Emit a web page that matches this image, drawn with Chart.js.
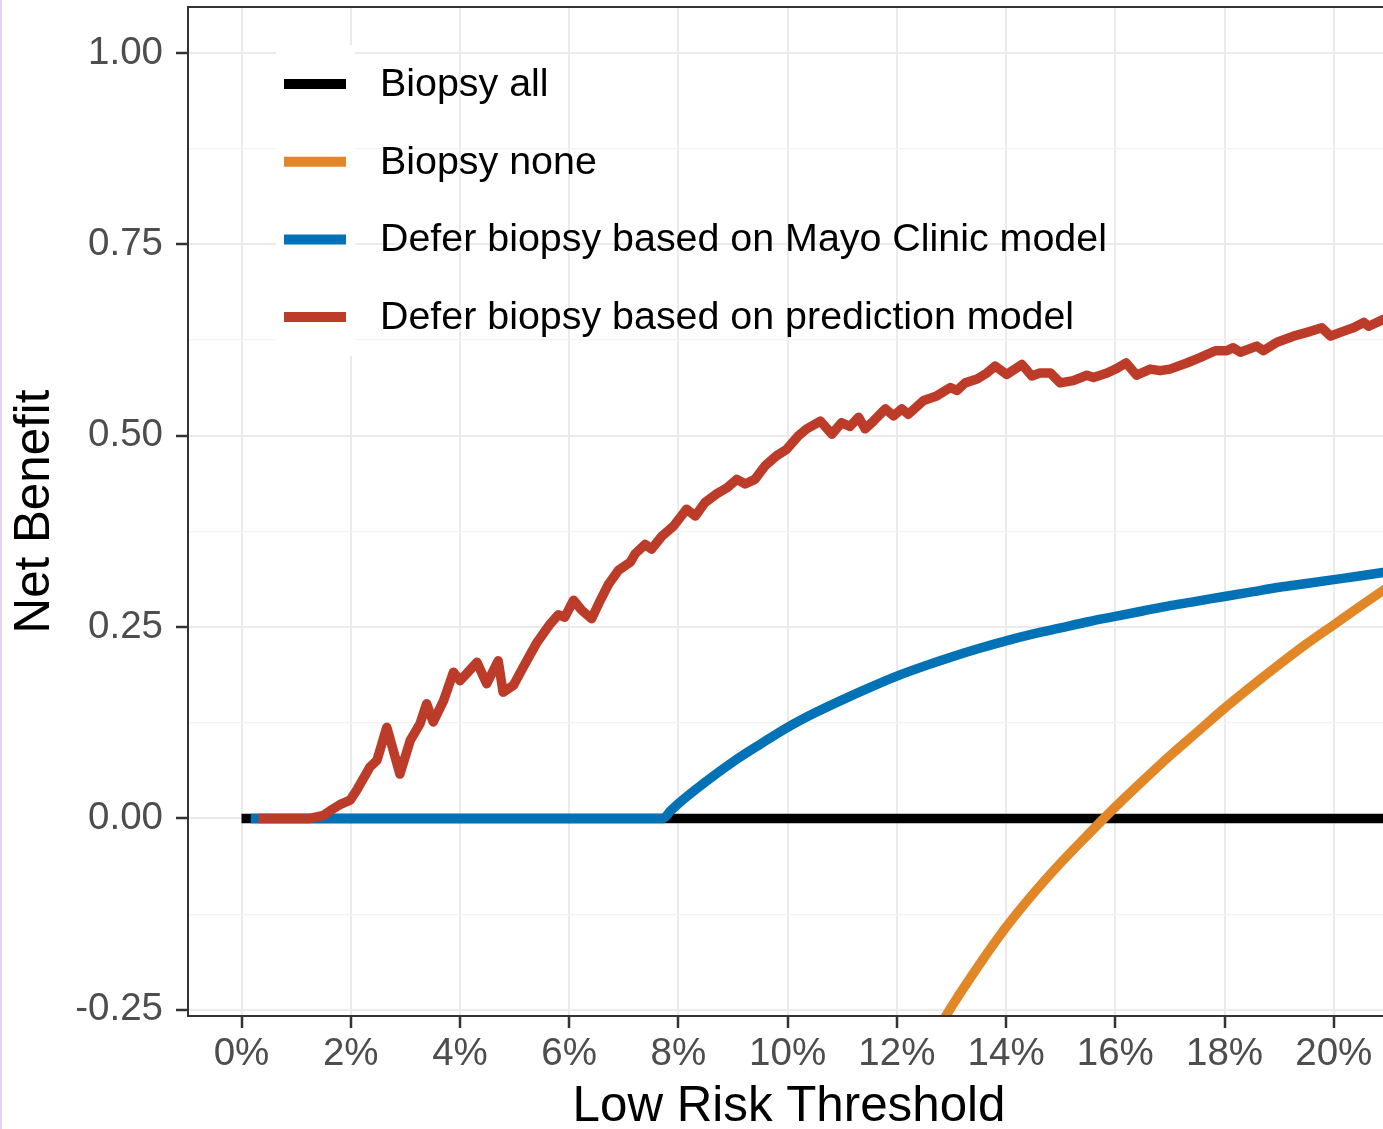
<!DOCTYPE html>
<html>
<head>
<meta charset="utf-8">
<script src="https://cdn.jsdelivr.net/npm/chart.js@4.4.1/dist/chart.umd.min.js"></script>
<style>
  html, body { margin: 0; padding: 0; background: #fff; overflow: hidden; }
  #wrap { position: relative; width: 1400px; height: 1129px; }
  #edge { position: absolute; left: 0; top: 0; width: 2px; height: 1129px; background: #e2d3ef; }
</style>
</head>
<body>
<div id="wrap"><canvas id="dca"></canvas><div id="edge"></div></div>
<script>
// tick positions (x in %)
const xTicks = [0, 2, 4, 6, 8, 10, 12, 14, 16, 18, 20];
const yTicks = [-0.25, 0, 0.25, 0.5, 0.75, 1];
const yMinor = [-0.125, 0.125, 0.375, 0.625, 0.875];

const names = ["Biopsy all", "Biopsy none",
  "Defer biopsy based on Mayo Clinic model",
  "Defer biopsy based on prediction model"];
const colors = ["#000000", "#E18727", "#0072B5", "#BC3C29"];

// Biopsy all
const allX = [0, 21.05];
const allY = [0, 0];

// Biopsy none
const noneX = [12.8, 13.0, 13.5, 14.0, 14.5, 15.0, 15.5, 16.0, 16.5, 17.0, 17.5, 18.0, 18.5, 19.0, 19.5, 20.0, 20.5, 21.05];
const noneY = [-0.270, -0.246, -0.192, -0.142, -0.098, -0.058, -0.021, 0.015, 0.049, 0.082, 0.113, 0.144, 0.173, 0.201, 0.228, 0.253, 0.278, 0.305];

// Mayo Clinic model
const mayoX = [0.17, 7.72, 7.85, 8.0, 8.5, 9.0, 9.5, 10.0, 10.5, 11.0, 11.5, 12.0, 12.5, 13.0, 13.5, 14.0, 14.5, 15.0, 15.5, 16.0, 16.5, 17.0, 17.5, 18.0, 18.5, 19.0, 19.5, 20.0, 20.5, 21.05];
const mayoY = [0, 0, 0.0095, 0.0195, 0.048, 0.074, 0.097, 0.119, 0.138, 0.155, 0.171, 0.186, 0.199, 0.211, 0.222, 0.232, 0.241, 0.249, 0.257, 0.264, 0.271, 0.278, 0.284, 0.290, 0.296, 0.302, 0.307, 0.312, 0.317, 0.323];

// prediction model
const predX = [0.31, 1.25, 1.5, 1.62, 1.8, 1.99, 2.11, 2.35, 2.48, 2.66, 2.9, 3.09, 3.27, 3.39, 3.51, 3.7, 3.88, 4.0, 4.12, 4.31,
  4.49, 4.7, 4.79, 4.98, 5.16, 5.41, 5.65, 5.8, 5.92, 6.08, 6.23, 6.41, 6.57, 6.72, 6.9, 7.12, 7.21, 7.39, 7.51, 7.7,
  7.91, 8.15, 8.31, 8.49, 8.7, 8.89, 9.07, 9.22, 9.4, 9.59, 9.8, 9.98, 10.2, 10.35, 10.6, 10.81, 10.99, 11.14, 11.3, 11.42,
  11.57, 11.79, 11.94, 12.09, 12.21, 12.49, 12.73, 12.98, 13.1, 13.25, 13.47, 13.65, 13.8, 14.01, 14.29, 14.47, 14.62, 14.81, 14.99, 15.23,
  15.48, 15.6, 15.85, 16.03, 16.2, 16.39, 16.64, 16.82, 17.0, 17.31, 17.55, 17.83, 18.04, 18.16, 18.29, 18.59, 18.71, 18.96, 19.26, 19.51,
  19.78, 19.94, 20.12, 20.36, 20.55, 20.64, 20.91, 21.05];
const predY = [0, 0, 0.004, 0.010, 0.018, 0.024, 0.037, 0.067, 0.076, 0.119, 0.058, 0.102, 0.124, 0.150, 0.126, 0.154, 0.191, 0.180, 0.189, 0.204,
  0.176, 0.206, 0.165, 0.174, 0.198, 0.230, 0.254, 0.266, 0.263, 0.285, 0.272, 0.261, 0.285, 0.306, 0.324, 0.335, 0.346, 0.358, 0.352, 0.369,
  0.382, 0.404, 0.395, 0.413, 0.424, 0.432, 0.443, 0.437, 0.443, 0.461, 0.474, 0.482, 0.500, 0.509, 0.519, 0.502, 0.517, 0.512, 0.524, 0.509,
  0.519, 0.535, 0.526, 0.535, 0.528, 0.546, 0.552, 0.563, 0.559, 0.569, 0.574, 0.582, 0.591, 0.580, 0.593, 0.578, 0.582, 0.582, 0.569, 0.572,
  0.579, 0.576, 0.582, 0.588, 0.595, 0.579, 0.587, 0.585, 0.587, 0.595, 0.602, 0.611, 0.611, 0.615, 0.609, 0.617, 0.611, 0.622, 0.630, 0.635,
  0.641, 0.630, 0.635, 0.641, 0.648, 0.643, 0.652, 0.655];

const FONT = "'Liberation Sans', Arial, sans-serif";

function pts(xs, ys) {
  return xs.map((x, i) => ({ x: x, y: ys[i] }));
}

function series(i, xs, ys, order, smooth) {
  return {
    label: names[i],
    data: pts(xs, ys),
    borderColor: colors[i],
    backgroundColor: colors[i],
    borderWidth: 9.5,
    borderJoinStyle: 'round',
    pointRadius: 0,
    tension: smooth ? 0.4 : 0,
    cubicInterpolationMode: smooth ? 'monotone' : 'default',
    clip: 0,
    order: order
  };
}

// ggplot style panel border
const panelBorder = {
  id: 'panelBorder',
  afterDraw(chart) {
    const a = chart.chartArea, c = chart.ctx;
    c.save();
    c.strokeStyle = '#333333';
    c.lineWidth = 2;
    c.strokeRect(a.left, a.top, a.right - a.left, a.bottom - a.top);
    c.restore();
  }
};

// legend inside the panel, white key boxes only
const insideLegend = {
  id: 'insideLegend',
  afterDraw(chart) {
    const c = chart.ctx;
    const step = 77.7;
    c.save();
    c.font = "39.4px " + FONT;
    c.textBaseline = 'middle';
    c.textAlign = 'left';
    names.forEach((n, i) => {
      const cy = 84 + i * step;
      c.fillStyle = '#ffffff';
      c.fillRect(276, cy - step / 2, 79, step);
      c.strokeStyle = colors[i];
      c.lineWidth = 10;
      c.beginPath();
      c.moveTo(284, cy);
      c.lineTo(346, cy);
      c.stroke();
      c.fillStyle = '#000000';
      c.fillText(n, 380, cy + 1);
    });
    c.restore();
  }
};

const minorSet = new Set(yMinor);

new Chart(document.getElementById('dca'), {
  type: 'line',
  data: {
    datasets: [
      series(0, allX, allY, 3, false),
      series(1, noneX, noneY, 2, true),
      series(2, mayoX, mayoY, 1, true),
      series(3, predX, predY, 0, false)
    ]
  },
  options: {
    responsive: true,
    maintainAspectRatio: false,
    animation: false,
    layout: { padding: { top: 7, right: 10, left: 0, bottom: 0 } },
    plugins: {
      legend: { display: false },
      tooltip: { enabled: false }
    },
    scales: {
      x: {
        type: 'linear',
        min: -0.98,
        max: 21.03,
        afterBuildTicks: s => { s.ticks = xTicks.map(v => ({ value: v })); },
        afterFit: s => { s.height = 113; s.paddingLeft = 0; s.paddingRight = 0; },
        ticks: {
          callback: v => v + '%',
          font: { family: FONT, size: 38.5 },
          color: '#4D4D4D',
          padding: 3,
          maxRotation: 0,
          autoSkip: false
        },
        grid: {
          color: '#EBEBEB',
          lineWidth: 2,
          tickLength: 12,
          tickColor: '#333333',
          tickWidth: 2.5
        },
        border: { display: false },
        title: {
          display: true,
          text: 'Low Risk Threshold',
          color: '#000000',
          font: { family: FONT, size: 49.3, lineHeight: 1 },
          padding: { top: 0, bottom: -3 }
        }
      },
      y: {
        min: -0.258,
        max: 1.06,
        afterBuildTicks: s => {
          s.ticks = yTicks.concat(yMinor).sort((a, b) => a - b).map(v => ({ value: v }));
        },
        afterFit: s => { s.width = 188; s.paddingTop = 0; s.paddingBottom = 0; },
        ticks: {
          callback: v => minorSet.has(v) ? '' : v.toFixed(2),
          font: { family: FONT, size: 38.5 },
          color: '#4D4D4D',
          padding: 13,
          autoSkip: false
        },
        grid: {
          color: ctx => minorSet.has(ctx.tick.value) ? '#F3F3F3' : '#EBEBEB',
          lineWidth: ctx => minorSet.has(ctx.tick.value) ? 1.3 : 2,
          tickLength: 12,
          tickColor: ctx => minorSet.has(ctx.tick.value) ? 'rgba(0,0,0,0)' : '#333333',
          tickWidth: 2.5
        },
        border: { display: false },
        title: {
          display: true,
          text: 'Net Benefit',
          color: '#000000',
          font: { family: FONT, size: 49.3, lineHeight: 1.2 },
          padding: { top: 6, bottom: 0 }
        }
      }
    }
  },
  plugins: [panelBorder, insideLegend]
});
</script>
</body>
</html>
